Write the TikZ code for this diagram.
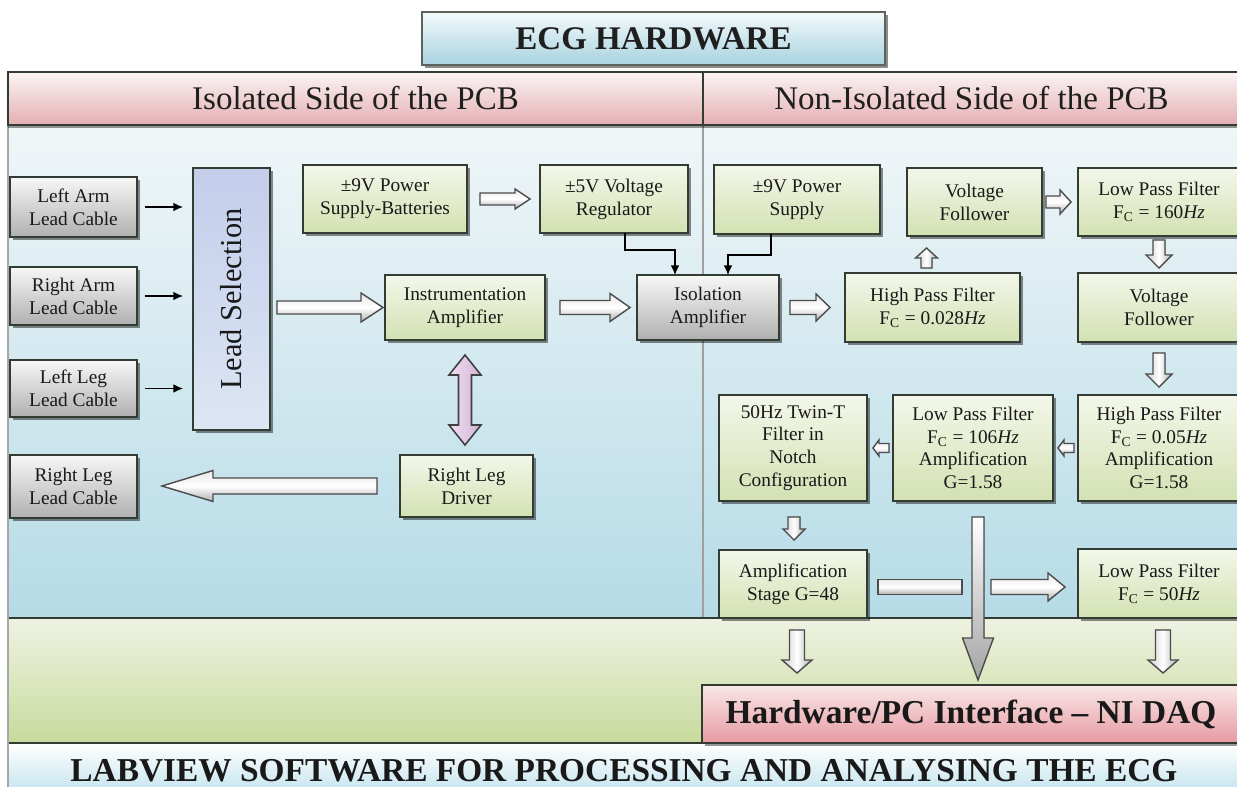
\documentclass[tikz,border=0pt]{standalone}
\usepackage{fontspec}
\setmainfont{Liberation Serif}
\usepackage{graphicx}
\usetikzlibrary{shadows,calc,arrows.meta}
\def\PX{0.5690pt}
\definecolor{boxline}{HTML}{323C32}
\definecolor{gTop}{HTML}{F3F7EA}
\definecolor{gBot}{HTML}{D3E1B2}
\definecolor{lsTop}{HTML}{C3CDEA}
\definecolor{lsBot}{HTML}{DCE6F4}
\definecolor{bgTop}{HTML}{F0F6F8}
\definecolor{bgBot}{HTML}{B5DBE7}
\definecolor{pkTop}{HTML}{FBF4F4}
\definecolor{pkBot}{HTML}{E4AFB3}
\definecolor{ttlTop}{HTML}{F4FAFC}
\definecolor{ttlBot}{HTML}{A8D2DF}
\definecolor{grTop}{HTML}{EEF3E2}
\definecolor{grBot}{HTML}{C8DA9D}
\definecolor{daqTop}{HTML}{F9E7E7}
\definecolor{daqBot}{HTML}{E69AA1}
\definecolor{botBot}{HTML}{BDE1EC}
\definecolor{pkArr}{HTML}{E6CCE6}
\definecolor{pkArrD}{HTML}{D2B2D6}
% box from pixel corners: style, name, x1, y1, x2, y2, text
\newcommand\bx[7]{\node[#1, minimum width={(#5-#3)*\PX}, minimum height={(#6-#4)*\PX}]
  (#2) at ({(#3+#5)/2},{(#4+#6)/2}) {#7};}
% horizontal block arrow: style, from, to, dir(1 right,-1 left), shaft half, head half, head length (px)
\newcommand\arrH[7]{\filldraw[#1] let \p1=#2, \p2=#3 in
 (\x1,{\y1+#5*\PX}) -- ({\x2-(#4)*#7*\PX},{\y1+#5*\PX}) -- ({\x2-(#4)*#7*\PX},{\y1+#6*\PX}) -- (\x2,\y1)
 -- ({\x2-(#4)*#7*\PX},{\y1-#6*\PX}) -- ({\x2-(#4)*#7*\PX},{\y1-#5*\PX}) -- (\x1,{\y1-#5*\PX}) -- cycle;}
% vertical block arrow: style, from, to, dir(1 down,-1 up), shaft half, head half, head length (px)
\newcommand\arrV[7]{\filldraw[#1] let \p1=#2, \p2=#3 in
 ({\x1-#5*\PX},\y1) -- ({\x1-#5*\PX},{\y2+(#4)*#7*\PX}) -- ({\x1-#6*\PX},{\y2+(#4)*#7*\PX}) -- (\x1,\y2)
 -- ({\x1+#6*\PX},{\y2+(#4)*#7*\PX}) -- ({\x1+#5*\PX},{\y2+(#4)*#7*\PX}) -- ({\x1+#5*\PX},\y1) -- cycle;}
\tikzset{
 bxbase/.style={rectangle, inner sep=0pt, outer sep=0pt, align=center},
 bx/.style={bxbase, draw=boxline, line width=1.1pt,
   font=\fontsize{11}{13}\selectfont, text=black!90,
   drop shadow={shadow xshift=1.6pt, shadow yshift=-1.6pt, opacity=0.45, fill=black}},
 gbox/.style={bx, top color=gTop, bottom color=gBot},
 graybox/.style={bx, top color=gray!6, bottom color=gray!62},
 lsbox/.style={bx, top color=lsTop, bottom color=lsBot, font=\fontsize{17.3}{20}\selectfont},
 hdr/.style={bxbase, draw=boxline, line width=1.2pt, top color=pkTop, bottom color=pkBot,
   font=\fontsize{18.8}{22}\selectfont, text=black!88,
   drop shadow={shadow xshift=0pt, shadow yshift=-1.5pt, opacity=0.4, fill=black}},
 ttl/.style={bxbase, draw=boxline!80, line width=1.1pt, top color=ttlTop, bottom color=ttlBot,
   font=\fontsize{18.8}{22}\selectfont\bfseries, text=black!88,
   drop shadow={shadow xshift=1.5pt, shadow yshift=-1.5pt, opacity=0.45, fill=black}},
 daqbox/.style={bxbase, draw=boxline, line width=1.2pt, top color=daqTop, bottom color=daqBot,
   font=\fontsize{19}{22}\selectfont\bfseries, text=black!90,
   drop shadow={shadow xshift=1.5pt, shadow yshift=-1.5pt, opacity=0.4, fill=black}},
 swbox/.style={bxbase, top color=white, bottom color=botBot,
   font=\fontsize{19}{22}\selectfont\bfseries, text=black!90},
 harr/.style={draw=black!70, line width=0.8pt, top color=gray!18, bottom color=gray!62, middle color=white},
 varr/.style={draw=black!70, line width=0.8pt, left color=gray!40, right color=gray!62, middle color=white},
 vbig/.style={draw=black!70, line width=0.8pt, top color=white, bottom color=gray!72},
 parr/.style={draw=black!75, line width=0.9pt, left color=pkArr!60!white, right color=pkArrD},
 tarr/.style={draw=black, line width=0.8pt, -{Latex[length=5.5pt,width=5pt]}},
 frameline/.style={draw=boxline, line width=1.3pt},
}
\begin{document}
\begin{tikzpicture}[x=0.02cm,y=-0.02cm]
\useasboundingbox (0,0) rectangle (1237,787);
\clip (0,0) rectangle (1237,787);
\fill[white] (0,0) rectangle (1237,787);
% backgrounds
\shade[top color=bgTop, bottom color=bgBot] (8,125) rectangle (1240,618);
\draw[gray!75, line width=0.6pt] (703,125) -- (703,618);
\shade[top color=grTop, bottom color=grBot] (8,618) rectangle (1240,743);
\bx{swbox}{sw}{8}{743}{1240}{799}{LABVIEW SOFTWARE FOR PROCESSING AND ANALYSING THE ECG}
\draw[frameline] (8,618) -- (1240,618);
\draw[frameline] (8,743) -- (1240,743);
\draw[gray!70, line width=1pt] (8,72) -- (8,787);
% header
\bx{hdr}{hl}{8}{72}{703}{125}{Isolated Side of the PCB}
\bx{hdr}{hr}{703}{72}{1240}{125}{Non-Isolated Side of the PCB}
\bx{ttl}{title}{422}{12}{885}{65}{ECG HARDWARE}
% left side boxes
\bx{graybox}{la}{10}{177}{137}{237}{Left Arm\\Lead Cable}
\bx{graybox}{ra}{10}{267}{137}{325}{Right Arm\\Lead Cable}
\bx{graybox}{ll}{10}{360}{137}{417}{Left Leg\\Lead Cable}
\bx{graybox}{rl}{10}{455}{137}{518}{Right Leg\\Lead Cable}
\bx{lsbox}{ls}{193}{168}{270}{430}{\rotatebox{90}{Lead Selection}}
\bx{gbox}{ps1}{303}{165}{467}{233}{±9V Power\\Supply-Batteries}
\bx{gbox}{reg}{540}{165}{688}{233}{±5V Voltage\\Regulator}
\bx{gbox}{ia}{385}{275}{545}{340}{Instrumentation\\Amplifier}
\bx{graybox}{iso}{637}{275}{779}{340}{Isolation\\Amplifier}
\bx{gbox}{rld}{400}{455}{533}{517}{Right Leg\\Driver}
% right side boxes
\bx{gbox}{ps2}{714}{165}{880}{234}{±9V Power\\Supply}
\bx{gbox}{vf1}{907}{168}{1042}{236}{Voltage\\Follower}
\bx{gbox}{lp1}{1078}{168}{1240}{236}{Low Pass Filter\\F\textsubscript{C} = 160\textit{Hz}}
\bx{gbox}{hp1}{845}{273}{1020}{342}{High Pass Filter\\F\textsubscript{C} = 0.028\textit{Hz}}
\bx{gbox}{vf2}{1078}{273}{1240}{342}{Voltage\\Follower}
\bx{gbox}{tt}{719}{395}{867}{501}{50Hz Twin-T\\Filter in\\Notch\\Configuration}
\bx{gbox}{lp2}{893}{395}{1053}{501}{Low Pass Filter\\F\textsubscript{C} = 106\textit{Hz}\\Amplification\\G=1.58}
\bx{gbox}{hp2}{1078}{395}{1240}{501}{High Pass Filter\\F\textsubscript{C} = 0.05\textit{Hz}\\Amplification\\G=1.58}
\bx{gbox}{amp}{719}{550}{867}{618}{Amplification\\Stage G=48}
\bx{gbox}{lp3}{1078}{549}{1240}{618}{Low Pass Filter\\F\textsubscript{C} = 50\textit{Hz}}
\bx{daqbox}{daq}{702}{685}{1240}{743}{Hardware/PC Interface – NI DAQ}
% thin arrows
\draw[tarr] ($(la.east)+(8,0)$) -- ($(la.east -| ls.west)+(-10,0)$);
\draw[tarr] ($(ra.east)+(8,0)$) -- ($(ra.east -| ls.west)+(-10,0)$);
\draw[tarr] ($(ll.east)+(8,0)$) -- ($(ll.east -| ls.west)+(-10,0)$);
\draw[tarr] ($(reg.south)+(11,0)$) -- ++(0,17) -| ($(iso.north)+(-33,0)$);
\draw[tarr] ($(ps2.south)+(-26,0)$) -- ++(0,21) -| ($(iso.north)+(20,0)$);
% block arrows, isolated side
\arrH{harr}{($(ls.east |- ia.west)+(7,0)$)}{($(ia.west)+(-2,0)$)}{1}{6.5}{14.5}{22}
\arrH{harr}{($(ps1.east)+(13,0)$)}{($(reg.west)+(-10,0)$)}{1}{6}{10}{15}
\arrH{harr}{($(ia.east)+(15,0)$)}{($(iso.west)+(-7,0)$)}{1}{7}{14}{20}
\arrH{harr}{($(rld.west)+(-23,0)$)}{($(rl.east)+(25,0)$)}{-1}{8}{15.5}{51}
\filldraw[parr] let \p1=($(ia.south)+(0,15)$), \p2=($(rld.north)+(0,-10)$) in
 (\x1,\y1) -- ({\x1+16*\PX},{\y1-20*\PX}) -- ({\x1+6.5*\PX},{\y1-20*\PX}) -- ({\x1+6.5*\PX},{\y2+20*\PX})
 -- ({\x1+16*\PX},{\y2+20*\PX}) -- (\x1,\y2) -- ({\x1-16*\PX},{\y2+20*\PX}) -- ({\x1-6.5*\PX},{\y2+20*\PX})
 -- ({\x1-6.5*\PX},{\y1-20*\PX}) -- ({\x1-16*\PX},{\y1-20*\PX}) -- cycle;
% block arrows, non-isolated side
\arrH{harr}{($(iso.east)+(11,0)$)}{($(hp1.west)+(-15,0)$)}{1}{7}{13.5}{14}
\arrV{varr}{($(hp1.north)+(-6,-5)$)}{($(vf1.south)+(0,12)$)}{-1}{5.5}{11}{10}
\arrH{harr}{($(vf1.east)+(4,0)$)}{($(lp1.west)+(-7,0)$)}{1}{6}{12}{11}
\arrV{varr}{($(lp1.south)+(0,4)$)}{($(vf2.north)+(0,-5)$)}{1}{6}{13}{13}
\arrV{varr}{($(vf2.south)+(0,11)$)}{($(hp2.north)+(0,-8)$)}{1}{6}{13}{13}
\arrH{harr}{($(hp2.west)+(-4,0)$)}{($(lp2.east)+(5,0)$)}{-1}{4.5}{8}{6}
\arrH{harr}{($(lp2.west)+(-4,0)$)}{($(tt.east)+(6,0)$)}{-1}{4.5}{8}{6}
\arrV{varr}{($(tt.south)+(1,16)$)}{($(amp.north)+(0,-10)$)}{1}{6}{11}{11}
\filldraw[harr] ($(amp.east)+(11,-4.5)$) rectangle ($(amp.east)+(95,10.5)$);
\arrH{harr}{($(amp.east)+(124,3)$)}{($(lp3.west)+(-13,0)$)}{1}{7.5}{14}{17}
\arrV{vbig}{($(lp2.south)+(5,16)$)}{($(daq.north)+(0,-5)$)}{1}{6}{15.5}{42}
\arrV{varr}{($(amp.south)+(4,12)$)}{($(daq.north)+(0,-12)$)}{1}{7.5}{15}{13}
\arrV{varr}{($(lp3.south)+(4,12)$)}{($(daq.north)+(0,-12)$)}{1}{7.5}{15}{13}
\end{tikzpicture}
\end{document}
